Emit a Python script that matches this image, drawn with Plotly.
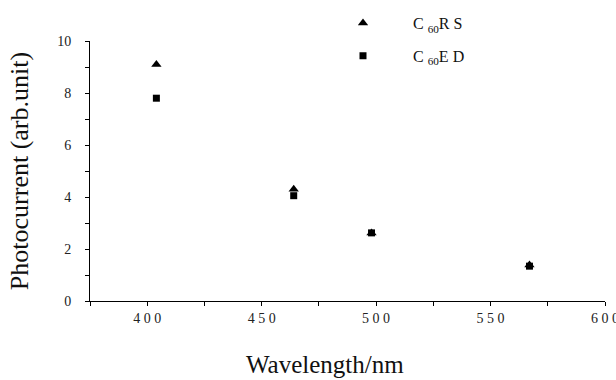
import plotly.graph_objects as go

wavelength = [404, 464, 498, 567]
rs_values = [9.1, 4.3, 2.62, 1.38]
ed_values = [7.8, 4.05, 2.62, 1.34]
series_names = ["C <sub>60</sub>R S", "C <sub>60</sub>E D"]
x_tickvals = [400, 450, 500, 550, 600]
x_ticktext = ["4 0 0", "4 5 0", "5 0 0", "5 5 0", "6 0 0"]
y_tickvals = [0, 2, 4, 6, 8, 10]

FONT = "Liberation Serif, Times New Roman, serif"

fig = go.Figure()
fig.add_trace(go.Scatter(x=wavelength, y=rs_values, mode="markers", name=series_names[0],
                         legendgroup="a",
                         marker=dict(symbol="triangle-up", size=9, color="black")))
fig.add_trace(go.Scatter(x=wavelength, y=ed_values, mode="markers", name=series_names[1],
                         legendgroup="b",
                         marker=dict(symbol="square", size=7, color="black")))

axis_common = dict(showgrid=False, zeroline=False, showline=True, linecolor="black", linewidth=1,
                   ticks="outside", ticklen=4, tickcolor="black", tickwidth=1,
                   ticklabeloverflow="allow",
                   tickfont=dict(family=FONT, size=14, color="#222"))

fig.update_xaxes(range=[375, 600], tickvals=x_tickvals, ticktext=x_ticktext,
                 minor=dict(dtick=25, tick0=375, ticks="outside", ticklen=4, tickcolor="black"),
                 ticklabelstandoff=0, **axis_common)
fig.update_yaxes(range=[0, 10], tickvals=y_tickvals,
                 minor=dict(dtick=1, ticks="outside", ticklen=4, tickcolor="black"),
                 ticklabelstandoff=11,
                 title=dict(text="Photocurrent (arb.unit)", font=dict(family=FONT, size=26, color="#111"),
                            standoff=21),
                 **axis_common)

fig.add_annotation(text="Wavelength/nm", xref="paper", yref="paper", x=0.456, y=-0.246,
                   showarrow=False, font=dict(family=FONT, size=25, color="#111"),
                   xanchor="center", yanchor="middle")

fig.update_layout(
    width=616, height=380,
    margin=dict(l=90, r=11, t=41, b=79, autoexpand=False),
    paper_bgcolor="white", plot_bgcolor="white",
    showlegend=True,
    legend=dict(x=0.433, y=1.134, xanchor="left", yanchor="top", bgcolor="rgba(0,0,0,0)",
                font=dict(family=FONT, size=16, color="#111"), tracegroupgap=9,
                itemwidth=90),
)

fig.write_html("out.html", config={"displayModeBar": False},
               post_script="document.body.style.margin='0';")
